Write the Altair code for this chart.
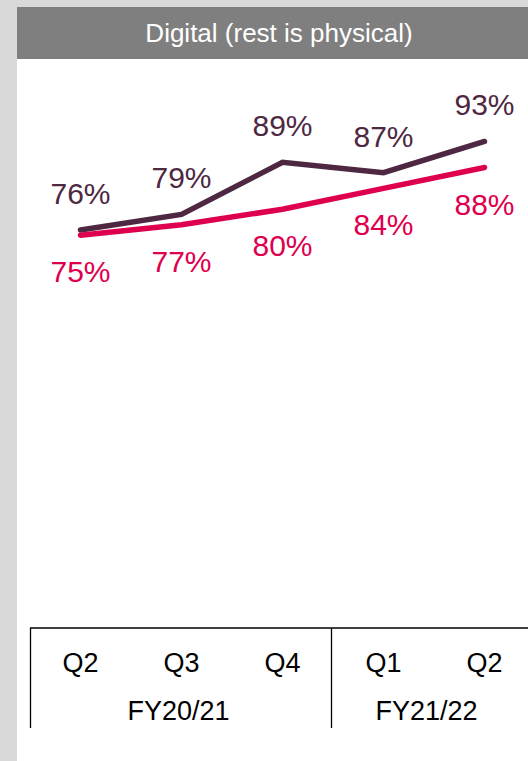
import altair as alt
import pandas as pd

# ---- data ----
periods = ["Q2 FY20/21", "Q3 FY20/21", "Q4 FY20/21", "Q1 FY21/22", "Q2 FY21/22"]
quarters = ["Q2", "Q3", "Q4", "Q1", "Q2"]
fiscal_years = ["FY20/21", "FY21/22"]
series_top = [76, 79, 89, 87, 93]
series_bottom = [75, 77, 80, 84, 88]
title_text = "Digital (rest is physical)"

PURPLE = "#4e2842"
CRIMSON = "#de004e"
FONT = "Liberation Sans"

W, H = 528, 761

top_df = pd.DataFrame({"period": periods, "value": series_top, "series": "top"})
bot_df = pd.DataFrame({"period": periods, "value": series_bottom, "series": "bottom"})
q_df = pd.DataFrame({"period": periods, "quarter": quarters})

x_scale = alt.Scale(type="point", domain=periods, range=[80.5, 484.5], padding=0)
y_scale = alt.Scale(domain=[0, 100], range=[626, 105], zero=True)

X = alt.X("period:N", scale=x_scale, axis=None, sort=periods)
Y = alt.Y("value:Q", scale=y_scale, axis=None)

base_dummy = pd.DataFrame({"d": [0]})

# white panel
panel = alt.Chart(base_dummy).mark_rect(color="white").encode(
    x=alt.value(17), x2=alt.value(W), y=alt.value(59), y2=alt.value(H)
)
# header bar
header = alt.Chart(base_dummy).mark_rect(color="#7f7f7f").encode(
    x=alt.value(17), x2=alt.value(W), y=alt.value(7), y2=alt.value(59)
)
header_text = alt.Chart(base_dummy).mark_text(
    text=title_text, color="white", font=FONT, fontSize=26, baseline="middle", align="center"
).encode(x=alt.value(279), y=alt.value(34))

# lines
line_top = alt.Chart(top_df).mark_line(color=PURPLE, strokeWidth=5.5, strokeCap="round").encode(x=X, y=Y)
line_bot = alt.Chart(bot_df).mark_line(color=CRIMSON, strokeWidth=5.5, strokeCap="round").encode(x=X, y=Y)

lab_top = alt.Chart(top_df).transform_calculate(lab="datum.value + '%'").mark_text(
    color=PURPLE, font=FONT, fontSize=30, baseline="middle", align="center", dy=-35
).encode(x=X, y=Y, text="lab:N")
lab_bot = alt.Chart(bot_df).transform_calculate(lab="datum.value + '%'").mark_text(
    color=CRIMSON, font=FONT, fontSize=30, baseline="middle", align="center", dy=38
).encode(x=X, y=Y, text="lab:N")

# table lines
rule_h = alt.Chart(base_dummy).mark_rule(color="black", strokeWidth=1.3).encode(
    x=alt.value(30), x2=alt.value(W), y=alt.value(628)
)
rule_v1 = alt.Chart(base_dummy).mark_rule(color="black", strokeWidth=1.3).encode(
    x=alt.value(30.5), y=alt.value(628), y2=alt.value(728)
)
rule_v2 = alt.Chart(base_dummy).mark_rule(color="black", strokeWidth=1.3).encode(
    x=alt.value(331.5), y=alt.value(628), y2=alt.value(728)
)

q_text = alt.Chart(q_df).mark_text(
    color="black", font=FONT, fontSize=27, baseline="middle", align="center"
).encode(x=X, y=alt.value(664), text="quarter:N")

fy1 = alt.Chart(base_dummy).mark_text(
    text=fiscal_years[0], color="black", font=FONT, fontSize=27, baseline="middle", align="center", dx=-3
).encode(x=alt.X(datum=periods[1], type="nominal", scale=x_scale, axis=None), y=alt.value(712))
fy2 = alt.Chart(base_dummy).mark_text(
    text=fiscal_years[1], color="black", font=FONT, fontSize=27, baseline="middle", align="center", dx=43
).encode(x=alt.X(datum=periods[3], type="nominal", scale=x_scale, axis=None), y=alt.value(712))

chart = alt.layer(
    panel, header, header_text, line_top, line_bot, lab_top, lab_bot,
    rule_h, rule_v1, rule_v2, q_text, fy1, fy2
).properties(
    width=W, height=H, background="#d9d9d9", padding=0,
    autosize=alt.AutoSizeParams(type="none")
).configure_view(stroke=None)

chart.save("out.html", embed_options={"renderer": "svg", "actions": False})
